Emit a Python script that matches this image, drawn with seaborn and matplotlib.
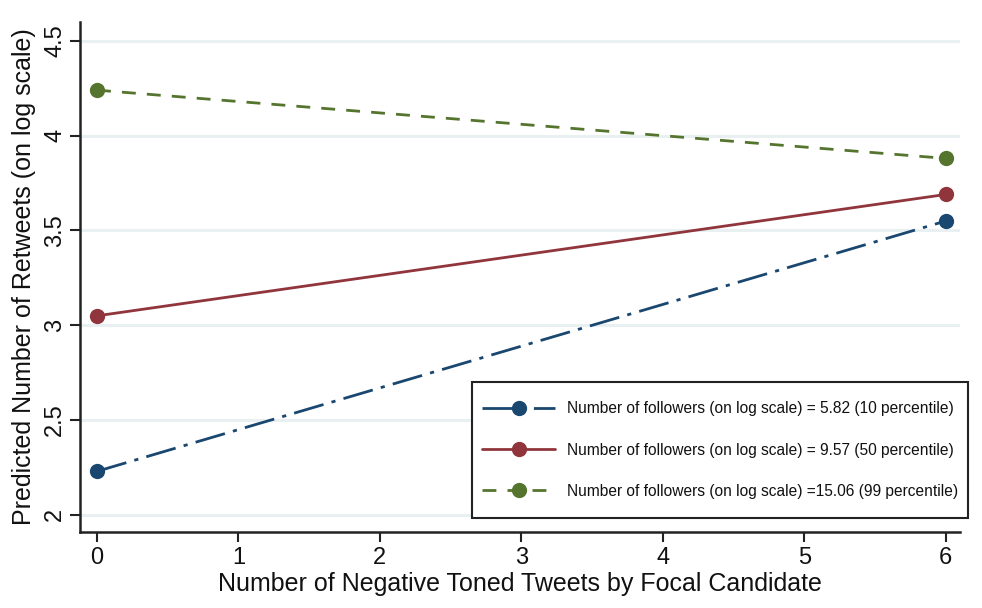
import matplotlib
matplotlib.use("Agg")
import matplotlib.pyplot as plt
from matplotlib.patches import Rectangle
import seaborn as sns
import pandas as pd

# Predicted retweets at 0 and 6 negative tweets, by follower level
x_vals = [0, 6]
low_followers = [2.23, 3.55]
mid_followers = [3.05, 3.69]
high_followers = [4.24, 3.88]
series_labels = [
    "Number of followers (on log scale) = 5.82 (10 percentile)",
    "Number of followers (on log scale) = 9.57 (50 percentile)",
    "Number of followers (on log scale) =15.06 (99 percentile)",
]
x_ticks = [0, 1, 2, 3, 4, 5, 6]
y_ticks = [2, 2.5, 3, 3.5, 4, 4.5]
y_tick_labels = ["2", "2.5", "3", "3.5", "4", "4.5"]

sns.set_theme(style="white")
plt.rcParams["font.family"] = ["Liberation Sans", "DejaVu Sans"]
plt.rcParams["text.color"] = "#111111"
plt.rcParams["axes.labelcolor"] = "#111111"
plt.rcParams["xtick.color"] = "#111111"
plt.rcParams["ytick.color"] = "#111111"

rows = []
for lab, vals in zip(series_labels, [low_followers, mid_followers, high_followers]):
    for xv, yv in zip(x_vals, vals):
        rows.append({"x": xv, "y": yv, "series": lab})
df = pd.DataFrame(rows)

colors = ["#1a476f", "#90353b", "#55752f"]
dashes = [(11, 3, 1.5, 3), None, (5, 4)]

W, H = 982, 608
fig = plt.figure(figsize=(W / 100, H / 100), dpi=100)
ax = fig.add_axes([0.0815, 0.125, 0.896, 0.839])

for lab, col, ds in zip(series_labels, colors, dashes):
    sub = df[df["series"] == lab]
    sns.lineplot(data=sub, x="x", y="y", ax=ax, color=col, linewidth=2.0,
                 marker="o", markersize=11, markeredgewidth=0, label=lab)
    ln = ax.lines[-1]
    if ds is not None:
        ln.set_dashes(ds)

ax.set_xlim(-0.12, 6.1)
ax.set_ylim(1.91, 4.6)
ax.set_xticks(x_ticks)
ax.set_yticks(y_ticks)
ax.set_yticklabels(y_tick_labels, rotation=90, va="center")
ax.tick_params(axis="both", direction="out", length=7, width=1.5, color="#222222",
               labelsize=17, left=True, bottom=True, labelcolor="#111111")
ax.tick_params(axis="x", pad=4)
ax.tick_params(axis="y", pad=3)

ax.grid(axis="y", color="#e8f0f2", linewidth=2.2)
ax.set_axisbelow(True)
for side in ["top", "right"]:
    ax.spines[side].set_visible(False)
for side in ["left", "bottom"]:
    ax.spines[side].set_color("#222222")
    ax.spines[side].set_linewidth(1.8)

ax.set_xlabel("Number of Negative Toned Tweets by Focal Candidate", fontsize=18, labelpad=2)
ax.set_ylabel("Predicted Number of Retweets (on log scale)", fontsize=18, labelpad=6)

# legend box (pixels): x 472..968, y 382..518 from top
bx0, bx1, by_top, by_bot = 472, 968, 382, 518
frame = Rectangle((bx0 / W, 1 - by_bot / H), (bx1 - bx0) / W, (by_bot - by_top) / H,
                  transform=fig.transFigure, facecolor="white", edgecolor="#222222",
                  linewidth=1.5, zorder=5, clip_on=False)
ax.add_artist(frame)

leg = ax.legend(loc="center", bbox_to_anchor=((bx0 + bx1) / 2 / W, 1 - (by_top + by_bot) / 2 / H),
                bbox_transform=fig.transFigure,
                frameon=False, handlelength=4.7,
                borderpad=0.0, labelspacing=1.68, handletextpad=0.75, borderaxespad=0.0,
                prop={"family": ["Liberation Sans", "DejaVu Sans"], "size": 11.2})
leg.set_zorder(6)
for t in leg.get_texts():
    t.set_color("#111111")

fig.savefig("out.png", dpi=100)
